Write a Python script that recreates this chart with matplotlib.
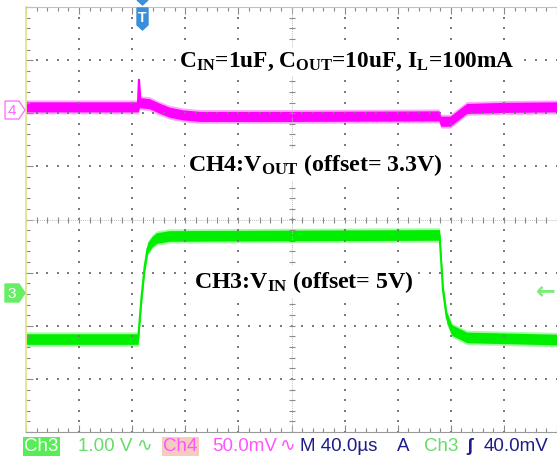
import numpy as np
import matplotlib
matplotlib.use("Agg")
import matplotlib.pyplot as plt
from matplotlib.patches import Polygon
from matplotlib.ticker import MultipleLocator

plt.rcParams['mathtext.fontset'] = 'custom'
plt.rcParams['mathtext.rm'] = 'Liberation Serif:bold'
plt.rcParams['mathtext.bf'] = 'Liberation Serif:bold'
plt.rcParams['mathtext.it'] = 'Liberation Serif:bold'

# time in us (40 us/div, 10 div), values in screen divisions
ch3_t = [0, 84.5, 86.8, 89.3, 91.6, 95, 98.3, 108, 200, 311.5, 314.1, 316.9, 320.7, 332, 400]
ch3_v = [-2.25, -2.25, -1.52, -0.90, -0.54, -0.42, -0.35, -0.31, -0.30, -0.29, -1.33, -1.84, -2.08, -2.22, -2.26]

ch4_t = [0, 84.5, 85.5, 93, 100, 108, 118, 131, 200, 311, 312.5, 319.5, 332, 360, 400]
ch4_v = [2.12, 2.12, 2.20, 2.18, 2.10, 2.02, 1.97, 1.94, 1.94, 1.95, 1.85, 1.85, 2.09, 2.11, 2.12]

spike_t = [84.4, 85.1, 86.2]
spike_v = [2.20, 2.63, 2.22]

title_txt = r"C$_{\mathbf{IN}}$=1uF, C$_{\mathbf{OUT}}$=10uF, I$_{\mathbf{L}}$=100mA"
ch4_txt = r"CH4:V$_{\mathbf{OUT}}$ (offset= 3.3V)"
ch3_txt = r"CH3:V$_{\mathbf{IN}}$ (offset= 5V)"

W, H = 557, 458
fig = plt.figure(figsize=(W / 100, H / 100), dpi=100, facecolor='white')
ax = fig.add_axes([26 / W, 26 / H, 531 / W, 425 / H])
ax.set_xlim(0, 400)
ax.set_ylim(-4, 4)
ax.set_facecolor('white')


def px(x, y):
    return (x / W, 1 - y / H)


# grid dots
grid_c = '#7a7a7a'
for i in range(1, 10):
    if i == 5:
        continue
    yy = np.arange(-4, 4.01, 0.2)
    ax.plot(np.full_like(yy, i * 40), yy, ls='none', marker='s', ms=1.5, color=grid_c, mew=0)
for j in range(-3, 4):
    if j == 0:
        continue
    xx = np.arange(0, 400.1, 8)
    ax.plot(xx, np.full_like(xx, j), ls='none', marker='s', ms=1.5, color=grid_c, mew=0)

# center crosshair
ax.axhline(0, color='#c0c0c0', lw=0.7, ls=(0, (1, 1)))
ax.axvline(200, color='#c0c0c0', lw=0.7, ls=(0, (1, 1)))
xx = np.arange(0, 400.1, 8)
ax.plot(xx, np.zeros_like(xx), ls='none', marker='|', ms=5, mew=0.8, color='#8a8a8a')
yy = np.arange(-4, 4.01, 0.2)
ax.plot(np.full_like(yy, 200), yy, ls='none', marker='_', ms=5, mew=0.8, color='#8a8a8a')

# borders
ax.spines['right'].set_visible(False)
ax.spines['left'].set_color('#e4e48a')
ax.spines['left'].set_linewidth(1.3)
ax.spines['bottom'].set_color('#9a9a9a')
ax.spines['top'].set_color('#c0c0c0')
ax.spines['top'].set_linestyle((0, (1, 1)))
ax.spines['top'].set_linewidth(0.8)
ax.xaxis.set_major_locator(MultipleLocator(40))
ax.xaxis.set_minor_locator(MultipleLocator(8))
ax.yaxis.set_major_locator(MultipleLocator(1))
ax.yaxis.set_minor_locator(MultipleLocator(0.2))
ax.tick_params(which='both', direction='in', top=True, bottom=True, left=True, right=False,
               labelbottom=False, labelleft=False, color='#8a8a8a', width=0.8)
ax.tick_params(which='major', length=5)
ax.tick_params(which='minor', length=3)

# traces
ch3_t = np.array(ch3_t); ch3_v = np.array(ch3_v)
ch4_t = np.array(ch4_t); ch4_v = np.array(ch4_v)
g = '#00ee00'
m = '#ff00ff'
ax.fill_between(ch3_t, ch3_v - 0.135, ch3_v + 0.135, color=g, alpha=0.35, lw=0)
ax.fill_between(ch3_t, ch3_v - 0.1, ch3_v + 0.1, color=g, lw=0)
ax.plot(ch3_t, ch3_v, color=g, lw=1.5)
ax.fill_between(ch4_t, ch4_v - 0.13, ch4_v + 0.13, color=m, alpha=0.35, lw=0)
ax.fill_between(ch4_t, ch4_v - 0.095, ch4_v + 0.095, color=m, lw=0)
ax.plot(ch4_t, ch4_v, color=m, lw=1.5)
ax.plot(spike_t, spike_v, color=m, lw=1.6)

# overlay labels
box = dict(facecolor='white', edgecolor='none', pad=2)
fig.text(*px(347, 67), title_txt, family='Liberation Serif', weight='bold', fontsize=16.8,
         ha='center', va='baseline', bbox=box)
fig.text(*px(315, 171), ch4_txt, family='Liberation Serif', weight='bold', fontsize=17.2,
         ha='center', va='baseline', bbox=box)
fig.text(*px(304, 288), ch3_txt, family='Liberation Serif', weight='bold', fontsize=17.2,
         ha='center', va='baseline', bbox=box)

# channel markers
fig.patches.append(Polygon([px(5, 101), px(19, 101), px(25, 110), px(19, 119), px(5, 119)],
                           closed=True, facecolor='white', edgecolor='#ff77ff', lw=1,
                           transform=fig.transFigure))
fig.text(*px(12, 111), '4', color='#ff66ff', fontsize=11, ha='center', va='center',
         family='Liberation Sans')
fig.patches.append(Polygon([px(5, 284), px(19, 284), px(25, 293), px(19, 302), px(5, 302)],
                           closed=True, facecolor='#66ee66', edgecolor='#66ee66', lw=1,
                           transform=fig.transFigure))
fig.text(*px(12, 294), '3', color='white', fontsize=11, ha='center', va='center',
         family='Liberation Sans')
fig.text(*px(546, 291), '\u2190', color='#77ee77', fontsize=17, ha='center', va='center',
         family='DejaVu Sans', weight='bold')

# trigger marker
tb = '#3b8fd9'
fig.patches.append(Polygon([px(137, 0), px(148, 0), px(142.5, 5)], closed=True,
                           facecolor=tb, edgecolor=tb, transform=fig.transFigure))
fig.patches.append(Polygon([px(137, 8), px(148, 8), px(148, 25), px(142.5, 30), px(137, 25)],
                           closed=True, facecolor=tb, edgecolor=tb, transform=fig.transFigure))
fig.text(*px(142.5, 18), 'T', color='white', fontsize=10, weight='bold', ha='center',
         va='center', family='Liberation Sans')

# status bar
sb_y = 451
fs = 13.5
fam = ['Liberation Sans', 'DejaVu Sans']
navy = '#1c1c88'
fig.text(*px(24, sb_y), 'Ch3', color='white', fontsize=fs, family=fam, va='baseline',
         bbox=dict(facecolor='#55ee55', edgecolor='none', pad=1))
fig.text(*px(78, sb_y), '1.00 V', color='#66dd66', fontsize=fs, family=fam, va='baseline')
fig.text(*px(136, sb_y), '\u223f', color='#66dd66', fontsize=fs, family=fam, va='baseline')
fig.text(*px(163, sb_y), 'Ch4', color='#ff55ff', fontsize=fs, family=fam, va='baseline',
         bbox=dict(facecolor='#f6cbc0', edgecolor='none', pad=1))
fig.text(*px(212, sb_y), '50.0mV', color='#ff55ff', fontsize=fs, family=fam, va='baseline')
fig.text(*px(279, sb_y), '\u223f', color='#ff55ff', fontsize=fs, family=fam, va='baseline')
fig.text(*px(300, sb_y), 'M 40.0\u00b5s', color=navy, fontsize=fs, family=fam, va='baseline')
fig.text(*px(397, sb_y), 'A', color=navy, fontsize=fs, family=fam, va='baseline')
fig.text(*px(424, sb_y), 'Ch3', color='#66dd66', fontsize=fs, family=fam, va='baseline')
fig.text(*px(466, sb_y), '\u0283', color=navy, fontsize=fs, family=fam, va='baseline',
         weight='bold')
fig.text(*px(484, sb_y), '40.0mV', color=navy, fontsize=fs, family=fam, va='baseline')

fig.savefig('out.png', dpi=100, facecolor='white')
